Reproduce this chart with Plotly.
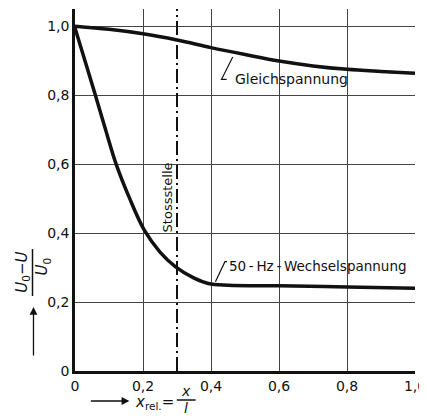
import plotly.graph_objects as go

# ---- data ----
x_dc = [0.0, 0.1, 0.2, 0.3, 0.4, 0.5, 0.6, 0.7, 0.8, 0.9, 1.0]
y_dc = [1.0, 0.991, 0.978, 0.96, 0.938, 0.918, 0.899, 0.885, 0.875, 0.869, 0.864]

x_ac = [0.0, 0.03, 0.06, 0.09, 0.121, 0.16, 0.203, 0.25, 0.296, 0.349, 0.392, 0.45, 0.6, 0.8, 1.0]
y_ac = [0.995, 0.898, 0.8, 0.70, 0.6, 0.502, 0.41, 0.345, 0.302, 0.27, 0.254, 0.249, 0.247, 0.244, 0.24]

stoss_x = 0.3
tick_vals = [0, 0.2, 0.4, 0.6, 0.8, 1.0]
tick_text = ["0", "0,2", "0,4", "0,6", "0,8", "1,0"]

OFF = 8  # page body margin
W, H = 427 - OFF, 418 - OFF
L, R, T, B = 75 - OFF, 8, 9 - OFF, 47
PW, PH = W - L - R, H - T - B
FONT = "DejaVu Sans"
INK = "#111"


def px(xs):
    # screen pixel x -> paper coordinate
    return (xs - OFF - L) / PW


def py(ys):
    # screen pixel y -> paper coordinate
    return (H - B - (ys - OFF)) / PH


fig = go.Figure()
fig.add_trace(go.Scatter(x=x_dc, y=y_dc, mode="lines",
                         line=dict(color=INK, width=3.5, shape="spline", smoothing=1.0), hoverinfo="skip"))
fig.add_trace(go.Scatter(x=x_ac, y=y_ac, mode="lines",
                         line=dict(color=INK, width=3.5, shape="spline", smoothing=1.0), hoverinfo="skip"))

# Stossstelle dash-dot line
fig.add_shape(type="line", x0=stoss_x, x1=stoss_x, y0=0, y1=1.05, xref="x", yref="y",
              line=dict(color=INK, width=2, dash="14px,4px,2px,4px"))

ann = []
ann.append(dict(x=0.273, y=0.503, xref="x", yref="y", text="Stossstelle", textangle=-90, showarrow=False,
                font=dict(family=FONT, size=13, color=INK)))
# curve labels with leaders
ann.append(dict(x=0.466, y=0.846, xref="x", yref="y", text="Gleichspannung", xanchor="left", yanchor="middle",
                showarrow=False, font=dict(family=FONT, size=14, color=INK)))
ann.append(dict(x=0.448, y=0.306, xref="x", yref="y", text="50\u2009-\u2009Hz\u2009-\u2009Wechselspannung",
                xanchor="left", yanchor="middle", showarrow=False, font=dict(family=FONT, size=13.5, color=INK)))
fig.add_shape(type="path", xref="x", yref="y", path="M0.464,0.911 L0.431,0.846 L0.446,0.846",
              line=dict(color=INK, width=1.2))
fig.add_shape(type="path", xref="x", yref="y", path="M0.413,0.259 L0.441,0.317 L0.447,0.317",
              line=dict(color=INK, width=1.2))

# y-axis title: fraction (rotated)
ann.append(dict(x=px(21), y=py(272), xref="paper", yref="paper", text="<i>U</i><sub>0</sub>−<i>U</i>",
                textangle=-90, showarrow=False, xanchor="center", yanchor="middle",
                font=dict(family=FONT, size=15, color=INK)))
ann.append(dict(x=px(42), y=py(266), xref="paper", yref="paper", text="<i>U</i><sub>0</sub>",
                textangle=-90, showarrow=False, xanchor="center", yanchor="middle",
                font=dict(family=FONT, size=15, color=INK)))
fig.add_shape(type="line", xref="paper", yref="paper", x0=px(32), x1=px(32), y0=py(249), y1=py(296),
              line=dict(color=INK, width=1.5))
ann.append(dict(x=px(33), y=py(307), xref="paper", yref="paper", text="", showarrow=True, ax=0, ay=50,
                arrowhead=2, arrowsize=1.2, arrowwidth=1.3, arrowcolor=INK))

# x-axis title
ann.append(dict(x=px(130), y=py(401), xref="paper", yref="paper", text="", showarrow=True, ax=-40, ay=0,
                arrowhead=2, arrowsize=1.2, arrowwidth=1.3, arrowcolor=INK))
ann.append(dict(x=px(134), y=py(402), xref="paper", yref="paper", text="<i>x</i><sub>rel.</sub>=",
                xanchor="left", yanchor="middle", showarrow=False, font=dict(family=FONT, size=15, color=INK)))
ann.append(dict(x=px(187), y=py(391), xref="paper", yref="paper", text="<i>x</i>",
                xanchor="center", yanchor="middle", showarrow=False, font=dict(family=FONT, size=14, color=INK)))
ann.append(dict(x=px(187), y=py(408), xref="paper", yref="paper", text="<i>l</i>",
                xanchor="center", yanchor="middle", showarrow=False, font=dict(family=FONT, size=14, color=INK)))
fig.add_shape(type="line", xref="paper", yref="paper", x0=px(178), x1=px(197), y0=py(400), y1=py(400),
              line=dict(color=INK, width=1.5))

fig.update_layout(
    width=W, height=H, margin=dict(l=L, r=R, t=T, b=B),
    paper_bgcolor="white", plot_bgcolor="white", showlegend=False,
    annotations=ann,
    font=dict(family=FONT, size=14, color=INK),
)
fig.update_xaxes(range=[0, 1.0], tickvals=tick_vals, ticktext=tick_text, showgrid=True, gridcolor="#444",
                 gridwidth=1, showline=True, linecolor=INK, linewidth=2.5, zeroline=False, ticks="",
                 tickfont=dict(size=14), fixedrange=True, ticklabeloverflow="allow")
fig.update_yaxes(range=[0, 1.05], tickvals=tick_vals, ticktext=tick_text, showgrid=True, gridcolor="#444",
                 gridwidth=1, showline=True, linecolor=INK, linewidth=2.5, zeroline=False, ticks="",
                 tickfont=dict(size=14), fixedrange=True)

fig.write_html("out.html")
